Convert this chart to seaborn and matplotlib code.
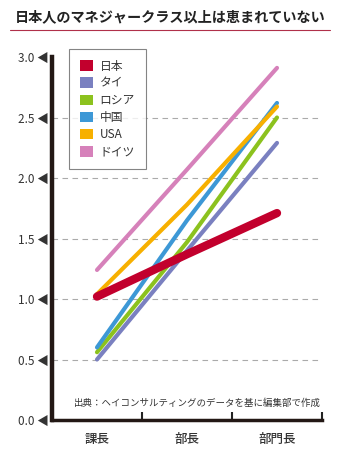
import matplotlib
matplotlib.use("Agg")
import matplotlib.pyplot as plt
import seaborn as sns
import pandas as pd
from matplotlib.patches import Patch
from matplotlib.lines import Line2D

sns.set_theme(style="white")
FONT = ['Noto Sans CJK JP', 'DejaVu Sans']
plt.rcParams['font.family'] = FONT

title = "日本人のマネジャークラス以上は恵まれていない"
source = "出典：ヘイコンサルティングのデータを基に編集部で作成"
positions = ["課長", "部長", "部門長"]
countries = ["日本", "タイ", "ロシア", "中国", "USA", "ドイツ"]
values = {
    "日本":  [1.02, 1.37, 1.71],
    "タイ":  [0.50, 1.40, 2.29],
    "ロシア": [0.56, 1.47, 2.50],
    "中国":  [0.60, 1.65, 2.62],
    "USA":   [1.04, 1.78, 2.59],
    "ドイツ": [1.24, 2.07, 2.91],
}
colors = {
    "日本": "#C2002D",
    "タイ": "#7A80C0",
    "ロシア": "#8CC21E",
    "中国": "#3D98D6",
    "USA": "#F7B000",
    "ドイツ": "#D681BA",
}
yticks = [0.0, 0.5, 1.0, 1.5, 2.0, 2.5, 3.0]

rows = []
for c in countries:
    for p, v in zip(positions, values[c]):
        rows.append({"country": c, "position": p, "value": v})
df = pd.DataFrame(rows)

fig = plt.figure(figsize=(3.4, 4.5), dpi=100)
ax = fig.add_axes([52/340, 1-420/450, 270/340, (420-57)/450])

draw_order = ["タイ", "ロシア", "中国", "USA", "ドイツ", "日本"]
for i, c in enumerate(draw_order):
    sub = df[df["country"] == c]
    sns.lineplot(data=sub, x="position", y="value", color=colors[c], ax=ax,
                 lw=6.0 if c == "日本" else 3.0, zorder=3 + i,
                 solid_capstyle="round", sort=False, legend=False)

ax.set_xlim(-0.5, 2.5)
ax.set_ylim(0, 3.0)

for y in yticks[1:-1]:
    ax.axhline(y, color="#AAAAAA", lw=0.8, ls=(0, (5, 4)), zorder=1)

ax.set_yticks(yticks)
ax.set_yticklabels([f"{y:.1f} ◀" for y in yticks], fontsize=8.5, color="#333333", family=FONT)
ax.tick_params(axis="y", length=0, pad=2)

ax.set_xticks([0, 1, 2])
ax.set_xticklabels(positions, fontsize=9, color="#333333", fontweight="medium", family=FONT)
ax.set_xticks([0.5, 1.5, 2.5], minor=True)
ax.tick_params(axis="x", which="major", length=0, pad=9)
ax.tick_params(axis="x", which="minor", direction="in", length=6, width=1.5, color="#222222", bottom=True)

ax.set_xlabel("")
ax.set_ylabel("")
for s in ["top", "right"]:
    ax.spines[s].set_visible(False)
ax.spines["left"].set_linewidth(3.2)
ax.spines["left"].set_color("#231815")
ax.spines["bottom"].set_linewidth(2.5)
ax.spines["bottom"].set_color("#231815")

handles = [Patch(facecolor=colors[c], edgecolor="none") for c in countries]
leg = ax.legend(handles, countries, loc="upper left", bbox_to_anchor=(17/270, 1 + 8/363),
                fontsize=8.5, frameon=True, fancybox=False, handlelength=1.1, handleheight=1.0,
                handletextpad=0.6, labelspacing=0.35, borderpad=0.9, borderaxespad=0)
leg.get_frame().set_edgecolor("#666666")
leg.get_frame().set_linewidth(0.8)
for t in leg.get_texts():
    t.set_color("#333333")
leg.set_zorder(20)

ax.text(0.995, 12/363, source, transform=ax.transAxes, ha="right", va="bottom",
        fontsize=6.8, color="#333333", family=FONT)

fig.text(170/340, 1-17/450, title, ha="center", va="center", fontsize=10.2,
         fontweight="bold", color="#222222", family=FONT)
fig.add_artist(Line2D([10/340, 330/340], [1-30/450, 1-30/450], color="#B0304A", lw=0.8))

fig.savefig("out.png", dpi=100)
